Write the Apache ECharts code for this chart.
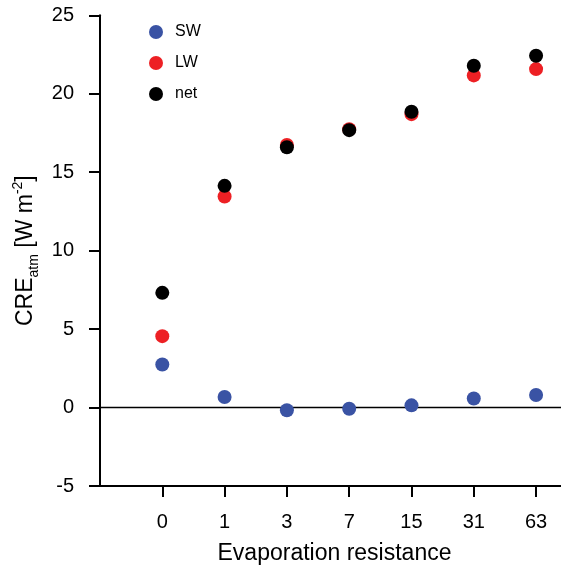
<!DOCTYPE html>
<html><head><meta charset="utf-8">
<script src="https://cdn.jsdelivr.net/npm/echarts@6/dist/echarts.min.js"></script>
<style>html,body{margin:0;padding:0;background:#fff}#c{width:561px;height:571px}</style>
</head><body><div id="c"></div>
<script>
const categories = ['0', '1', '3', '7', '15', '31', '63'];
const seriesNames = ['SW', 'LW', 'net'];
const sw  = [2.74, 0.67, -0.17, -0.08, 0.14, 0.58, 0.80];
const lw  = [4.55, 13.45, 16.74, 17.74, 18.70, 21.17, 21.57];
const net = [7.31, 14.13, 16.59, 17.68, 18.85, 21.78, 22.42];
const yTicks = [-5, 0, 5, 10, 15, 20, 25];

const FONT = '"Liberation Sans", Arial, Helvetica, sans-serif';
const colors = ['#3a53a4', '#ed2024', '#000000'];
const idx = categories.map((c, i) => i);
const toPts = arr => arr.map((v, i) => [i, v]);

const chart = echarts.init(document.getElementById('c'), null, {renderer: 'canvas'});
chart.setOption({
  animation: false,
  backgroundColor: '#fff',
  textStyle: {fontFamily: FONT},
  grid: {left: 100, top: 15.3, right: -3, bottom: 85, containLabel: false},
  legend: {
    data: seriesNames, orient: 'vertical', left: 149, top: 24, padding: 0,
    itemWidth: 28, itemHeight: 14, itemGap: 15, icon: 'circle',
    textStyle: {fontSize: 16, color: '#000', fontFamily: FONT}
  },
  xAxis: {
    type: 'value', min: -1, max: 6.4, interval: 1,
    name: 'Evaporation resistance', nameLocation: 'middle', nameGap: 56,
    nameTextStyle: {fontSize: 23, color: '#000', fontFamily: FONT, padding: [0, 0, 0, 8]},
    axisLine: {show: true, onZero: false, lineStyle: {color: '#000', width: 2}},
    axisTick: {show: true, length: 11, inside: false, customValues: idx, lineStyle: {color: '#000', width: 2}},
    axisLabel: {customValues: idx, margin: 26, fontSize: 20, color: '#000', fontFamily: FONT,
      formatter: v => categories[Math.round(v)] ?? ''},
    splitLine: {show: false}
  },
  yAxis: {
    type: 'value', min: yTicks[0], max: yTicks[yTicks.length - 1], interval: 5,
    name: '{m|CRE}{sub|atm}{m| [W m}{sup|-2}{m|]}', nameLocation: 'middle', nameGap: 57,
    nameRotate: 90,
    nameTextStyle: {
      color: '#000', fontFamily: FONT,
      rich: {
        m: {fontSize: 23, lineHeight: 30, color: '#000', fontFamily: FONT},
        sub: {fontSize: 14, lineHeight: 14, verticalAlign: 'bottom', color: '#000', fontFamily: FONT},
        sup: {fontSize: 14, lineHeight: 14, verticalAlign: 'top', color: '#000', fontFamily: FONT}
      }
    },
    axisLine: {show: true, onZero: false, lineStyle: {color: '#000', width: 2}},
    axisTick: {show: true, length: 11, inside: false, lineStyle: {color: '#000', width: 2}},
    axisLabel: {margin: 26, fontSize: 20, color: '#000', fontFamily: FONT},
    splitLine: {show: false}
  },
  series: [
    {name: seriesNames[0], type: 'scatter', data: toPts(sw), symbolSize: 14, itemStyle: {color: colors[0], opacity: 1}, z: 3,
      markLine: {silent: true, z: 1, symbol: ['none', 'none'], label: {show: false},
        lineStyle: {color: '#000', width: 1.4, type: 'solid'}, data: [{yAxis: 0}], animation: false}},
    {name: seriesNames[1], type: 'scatter', data: toPts(lw), symbolSize: 14, itemStyle: {color: colors[1], opacity: 1}, z: 4},
    {name: seriesNames[2], type: 'scatter', data: toPts(net), symbolSize: 14, itemStyle: {color: colors[2], opacity: 1}, z: 5}
  ]
});
</script>
</body></html>
